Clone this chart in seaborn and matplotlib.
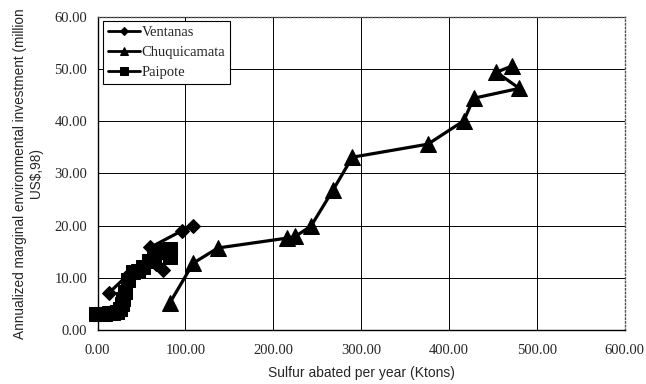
import pandas as pd
import matplotlib
matplotlib.use("Agg")
import matplotlib.pyplot as plt
import seaborn as sns

# data (x: Ktons sulfur abated, y: million US$ 98)
ventanas_x = [13, 35, 47, 66, 75, 60, 96, 109]
ventanas_y = [7.1, 10.6, 11.8, 12.6, 11.5, 15.8, 19.0, 19.9]

chuqui_x = [82, 109, 137, 216, 225, 243, 268, 290, 376, 417, 428, 480, 454, 472]
chuqui_y = [5.1, 12.8, 15.7, 17.6, 17.9, 19.9, 26.8, 33.1, 35.6, 40.1, 44.4, 46.3, 49.4, 50.6]

paipote_x = [-2, 3, 8, 13, 18, 22, 26, 28, 29, 31, 35, 40, 46, 52, 58, 64, 70, 76, 83, 83]
paipote_y = [3.0, 3.0, 3.0, 3.2, 3.3, 3.5, 4.0, 5.0, 6.0, 7.2, 9.6, 11.0, 11.3, 12.0, 13.2, 14.3, 14.9, 15.3, 15.5, 14.0]

x_ticks = [0, 100, 200, 300, 400, 500, 600]
y_ticks = [0, 10, 20, 30, 40, 50, 60]

sns.set_style("white")
plt.rcParams['font.family'] = ['Liberation Serif', 'DejaVu Serif']

fig = plt.figure(figsize=(6.46, 3.84), dpi=100)
ax = fig.add_axes([0.151, 0.141, 0.816, 0.815])

series = [
    ("Ventanas", ventanas_x, ventanas_y, "D", 7.5),
    ("Chuquicamata", chuqui_x, chuqui_y, "^", 11),
    ("Paipote", paipote_x, paipote_y, "s", 10),
]
for name, xs, ys, mk, ms in series:
    df = pd.DataFrame({"x": xs, "y": ys})
    sns.lineplot(data=df, x="x", y="y", sort=False, estimator=None, ax=ax,
                 color="black", linewidth=2.3, marker=mk, markersize=ms,
                 markeredgecolor="black", markerfacecolor="black",
                 label=name, clip_on=False, zorder=3)

ax.set_xlim(0, 600)
ax.set_ylim(0, 60)
ax.set_xticks(x_ticks)
ax.set_yticks(y_ticks)
ax.set_xticklabels([f"{v:.2f}" for v in x_ticks], fontsize=10.5)
ax.set_yticklabels([f"{v:.2f}" for v in y_ticks], fontsize=10.5)
ax.tick_params(axis='both', direction='inout', length=5, width=0.8, color='black')
ax.tick_params(axis='x', pad=8)
ax.tick_params(axis='y', pad=5)

ax.grid(True, color='black', linewidth=0.7, zorder=0)
ax.set_axisbelow(True)

for side in ['left', 'bottom']:
    ax.spines[side].set_color('black')
    ax.spines[side].set_linewidth(1.0)
for side in ['top', 'right']:
    ax.spines[side].set_color('#555555')
    ax.spines[side].set_linestyle(':')
    ax.spines[side].set_linewidth(1.0)

ax.set_xlabel("Sulfur abated per year (Ktons)", fontsize=10,
              family=['Liberation Sans', 'DejaVu Sans'], labelpad=6)
ax.set_ylabel("Annualized marginal environmental investment (million\nUS$,98)",
              fontsize=9.8, family=['Liberation Sans', 'DejaVu Sans'], labelpad=8)

leg = ax.legend(loc='upper left', bbox_to_anchor=(0.01, 0.987), fancybox=False,
                framealpha=1, edgecolor='black', handlelength=2.2,
                handletextpad=0.1, borderaxespad=0, markerscale=0.55,
                prop={'family': 'Liberation Serif', 'size': 10.5},
                borderpad=0.35, labelspacing=0.45)
leg.get_frame().set_linewidth(0.8)
for line in leg.get_lines():
    line.set_linewidth(2.0)

fig.savefig("out.png", dpi=100)
